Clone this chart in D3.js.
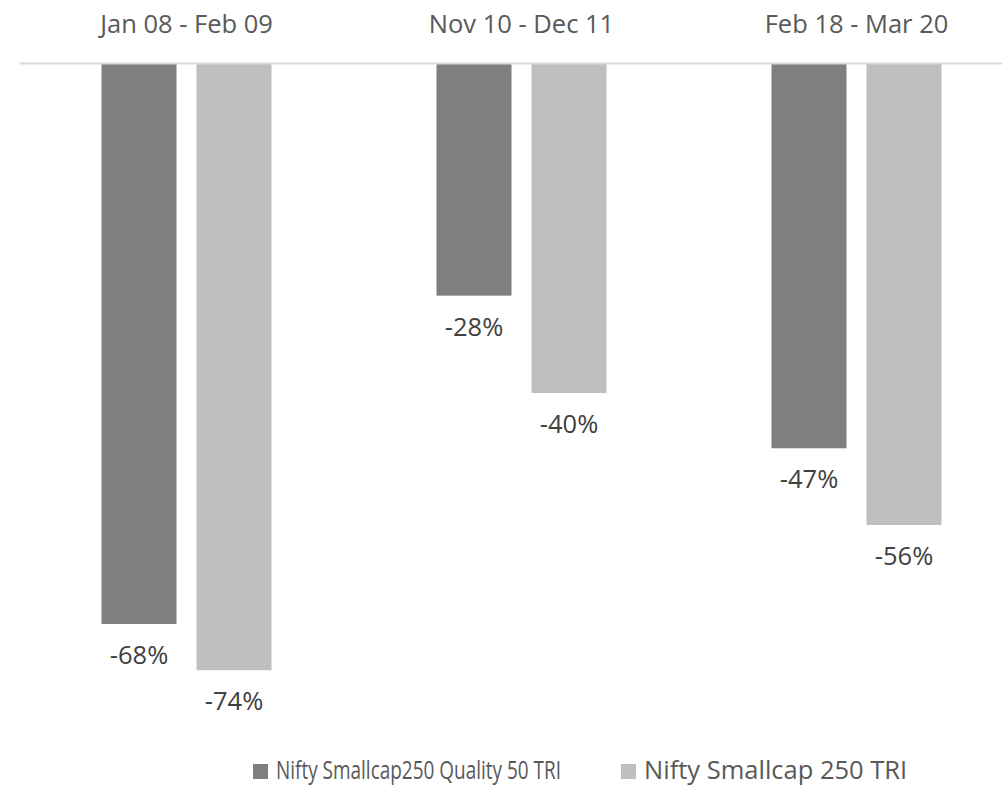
<!DOCTYPE html>
<html>
<head>
<meta charset="utf-8">
<script src="https://cdn.jsdelivr.net/npm/d3@7"></script>
<style>
  html, body { margin: 0; padding: 0; background: #fff; }
  svg { display: block; }
  text { font-family: "Open Sans", "Noto Sans", sans-serif; }
</style>
</head>
<body>
<svg id="chart" width="1002" height="785"></svg>
<script>
const categories = ["Jan 08 - Feb 09", "Nov 10 - Dec 11", "Feb 18 - Mar 20"];
const seriesNames = ["Nifty Smallcap250 Quality 50 TRI", "Nifty Smallcap 250 TRI"];
const qualityValues = [-68.0, -28.2, -46.7];
const smallcapValues = [-73.6, -40.0, -56.0];
const seriesColors = ["#7f7f7f", "#bfbfbf"];

const seriesValues = [qualityValues, smallcapValues];
const data = categories.map((c, i) => ({
  category: c,
  values: seriesNames.map((s, j) => ({ series: s, value: seriesValues[j][i] }))
}));

const svg = d3.select("#chart");
const FONT = "'Open Sans', 'Noto Sans', sans-serif";

const x0 = d3.scaleBand().domain(categories).range([19, 1024]).paddingInner(0).paddingOuter(0);
const groupPad = 82.5;
const x1 = d3.scaleBand().domain(seriesNames)
  .range([groupPad, x0.bandwidth() - groupPad])
  .paddingInner(20 / 95).paddingOuter(0);
const y = d3.scaleLinear().domain([-80, 0]).range([723, 63]);
const color = d3.scaleOrdinal().domain(seriesNames).range(seriesColors);

// bars
const groups = svg.append("g").selectAll("g").data(data).join("g")
  .attr("transform", d => `translate(${x0(d.category)},0)`);

groups.selectAll("rect").data(d => d.values).join("rect")
  .attr("x", d => x1(d.series))
  .attr("width", x1.bandwidth())
  .attr("y", d => y(Math.max(0, d.value)))
  .attr("height", d => Math.abs(y(d.value) - y(0)))
  .attr("fill", d => color(d.series));

// value labels
groups.selectAll("text.val").data(d => d.values).join("text")
  .attr("class", "val")
  .attr("x", d => x1(d.series) + x1.bandwidth() / 2)
  .attr("y", d => y(d.value) + 40)
  .attr("text-anchor", "middle")
  .attr("fill", "#404040")
  .style("font-size", "25.5px")
  .text(d => `${Math.round(d.value)}%`);

// category axis on top at zero line
const axis = d3.axisTop(x0).tickSize(0).tickPadding(30);
const axisG = svg.append("g").attr("transform", `translate(0,${y(0)})`).call(axis);
axisG.select(".domain").attr("stroke", "#d9d9d9").attr("stroke-width", 2);
axisG.selectAll(".tick text")
  .attr("fill", "#595959")
  .style("font-size", "25.5px")
  .style("font-family", FONT);

// legend
const legendX = [253, 621];
const legendTextWidth = [285, null];
const legend = svg.append("g").selectAll("g").data(seriesNames).join("g")
  .attr("transform", (d, i) => `translate(${legendX[i]},764)`);
legend.append("rect").attr("width", 15).attr("height", 15).attr("fill", d => color(d));
legend.append("text")
  .attr("x", 23).attr("y", 15)
  .attr("fill", "#595959")
  .style("font-size", "25.5px")
  .each(function(d, i) {
    if (legendTextWidth[i]) {
      d3.select(this).attr("textLength", legendTextWidth[i]).attr("lengthAdjust", "spacingAndGlyphs");
    }
  })
  .text(d => d);
</script>
</body>
</html>
